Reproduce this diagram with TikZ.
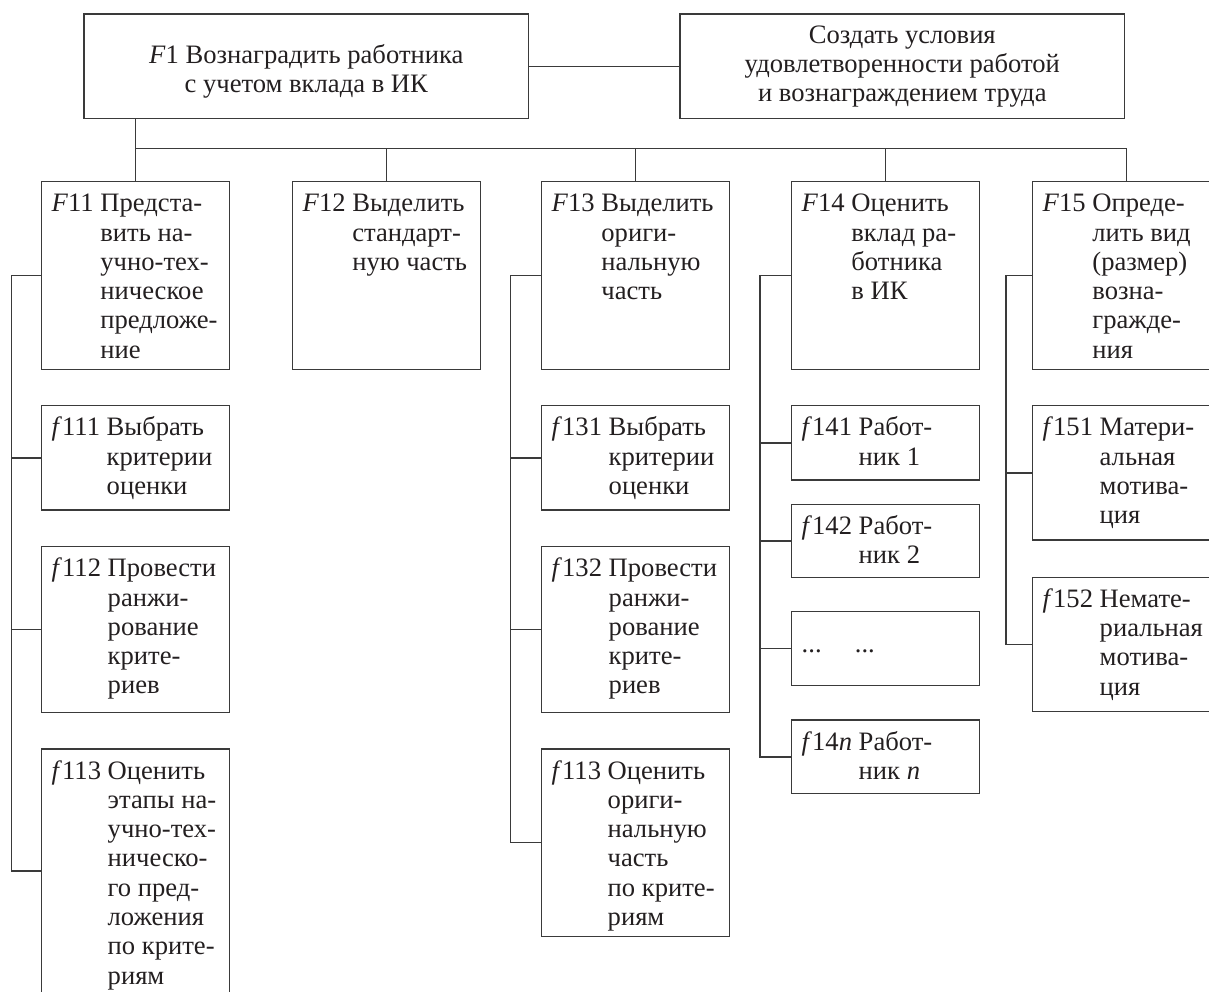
\documentclass[tikz,border=0pt]{standalone}
\usepackage{fontspec}
\setmainfont{Liberation Serif}
\definecolor{ink}{HTML}{231F20}
\definecolor{ln}{HTML}{3A3A3A}
\newcommand\lab[2]{#1 \begin{tabular}[t]{@{}l@{}}#2\end{tabular}}
\newcommand\ctr[1]{\begin{tabular}[t]{@{}c@{}}#1\end{tabular}}
\newcommand\mkbox[5]{\node[fbox, minimum width=#4*0.5pt, minimum height=#5*0.5pt] (#1) at ({#2+#4/2},{#3+#5/2}) {};}
\newcommand\mktxt[3]{\node[txt, anchor=base west] (#1) at ([xshift=5pt,yshift=-15pt]#2.north west) {#3};}
\begin{document}
\begin{tikzpicture}[x=0.5pt, y=-0.5pt,
  fbox/.style={draw=ln, line width=0.65pt, inner sep=0pt, outer sep=0pt},
  txt/.style={inner sep=0pt, outer sep=0pt, text=ink, font=\fontsize{13.3}{14.65}\selectfont},
  conn/.style={draw=ln, line width=0.65pt}]
\useasboundingbox (0,0) rectangle (1209,991);

% top row
\mkbox{F1}{84}{14}{444.7}{104.3}
\mkbox{R}{680}{14}{444.7}{104.3}
\node[txt, anchor=base] (tF1) at (306.3,63.3) {\ctr{\textit{F}1 Вознаградить работника\\с учетом вклада в ИК}};
\node[txt, anchor=base] (tR) at (902.3,43.3) {\ctr{Создать условия\\удовлетворенности работой\\и вознаграждением труда}};

% column 1
\mkbox{F11}{41.7}{181.7}{188}{187.6}
\mkbox{f111}{41.7}{405.7}{188}{104.3}
\mkbox{f112}{41.7}{546.7}{188}{165.6}
\mkbox{f113}{41.7}{749}{188}{244}
% column 2
\mkbox{F12}{292.6}{181.7}{188}{187.6}
% column 3
\mkbox{F13}{541.7}{181.7}{188}{187.6}
\mkbox{f131}{541.7}{405.7}{188}{104.3}
\mkbox{f132}{541.7}{546.7}{188}{165.6}
\mkbox{f113b}{541.7}{749}{188}{187.4}
% column 4
\mkbox{F14}{791.7}{181.7}{188}{187.6}
\mkbox{f141}{791.7}{405.7}{188}{74.3}
\mkbox{f142}{791.7}{504.3}{188}{73.4}
\mkbox{fdots}{791.7}{611.7}{188}{73.6}
\mkbox{f14n}{791.7}{720}{188}{73.7}
% column 5
\mkbox{F15}{1032.7}{181.7}{188}{187.6}
\mkbox{f151}{1032.7}{405.7}{188}{134.3}
\mkbox{f152}{1032.7}{577.3}{188}{134.4}

% texts
\mktxt{t11}{F11}{\lab{\textit{F}11}{Предста-\\вить на-\\учно-тех-\\ническое\\предложе-\\ние}}
\mktxt{t111}{f111}{\lab{\textit{f}111}{Выбрать\\критерии\\оценки}}
\mktxt{t112}{f112}{\lab{\textit{f}112}{Провести\\ранжи-\\рование\\крите-\\риев}}
\mktxt{t113}{f113}{\lab{\textit{f}113}{Оценить\\этапы на-\\учно-тех-\\ническо-\\го пред-\\ложения\\по крите-\\риям}}
\mktxt{t12}{F12}{\lab{\textit{F}12}{Выделить\\стандарт-\\ную часть}}
\mktxt{t13}{F13}{\lab{\textit{F}13}{Выделить\\ориги-\\нальную\\часть}}
\mktxt{t131}{f131}{\lab{\textit{f}131}{Выбрать\\критерии\\оценки}}
\mktxt{t132}{f132}{\lab{\textit{f}132}{Провести\\ранжи-\\рование\\крите-\\риев}}
\mktxt{t113b}{f113b}{\lab{\textit{f}113}{Оценить\\ориги-\\нальную\\часть\\по крите-\\риям}}
\mktxt{t14}{F14}{\lab{\textit{F}14}{Оценить\\вклад ра-\\ботника\\в ИК}}
\mktxt{t141}{f141}{\lab{\textit{f}141}{Работ-\\ник 1}}
\mktxt{t142}{f142}{\lab{\textit{f}142}{Работ-\\ник 2}}
\node[txt, anchor=base west] (tdots) at (801.7,652) {\makebox[26.6pt][l]{...}...};
\mktxt{t14n}{f14n}{\lab{\textit{f}14\textit{n}}{Работ-\\ник \textit{n}}}
\mktxt{t15}{F15}{\lab{\textit{F}15}{Опреде-\\лить вид\\(размер)\\возна-\\гражде-\\ния}}
\mktxt{t151}{f151}{\lab{\textit{f}151}{Матери-\\альная\\мотива-\\ция}}
\mktxt{t152}{f152}{\lab{\textit{f}152}{Немате-\\риальная\\мотива-\\ция}}

% connectors top
\coordinate (bus) at (0,148.3);
\draw[conn] (F1.east) -- (R.west);
\draw[conn] (F1.south -| F11.north) -- (F11.north);
\draw[conn] (bus -| F11.north) -- (bus -| F15.north);
\foreach \k in {F12,F13,F14,F15} \draw[conn] (bus -| \k.north) -- (\k.north);

% spines
\coordinate (s1) at (11.7,0);
\coordinate (s3) at (510.7,0);
\coordinate (s4) at (760,0);
\coordinate (s5) at (1006,0);

\draw[conn] (F11.west) -- (F11.west -| s1) -- (f113.west -| s1) -- (f113.west);
\foreach \k in {f111,f112} \draw[conn] (\k.west -| s1) -- (\k.west);

\draw[conn] (F13.west) -- (F13.west -| s3) -- (f113b.west -| s3) -- (f113b.west);
\foreach \k in {f131,f132} \draw[conn] (\k.west -| s3) -- (\k.west);

\draw[conn] (F14.west) -- (F14.west -| s4) -- (f14n.west -| s4) -- (f14n.west);
\foreach \k in {f141,f142,fdots} \draw[conn] (\k.west -| s4) -- (\k.west);

\draw[conn] (F15.west) -- (F15.west -| s5) -- (f152.west -| s5) -- (f152.west);
\draw[conn] (f151.west -| s5) -- (f151.west);
\end{tikzpicture}
\end{document}
